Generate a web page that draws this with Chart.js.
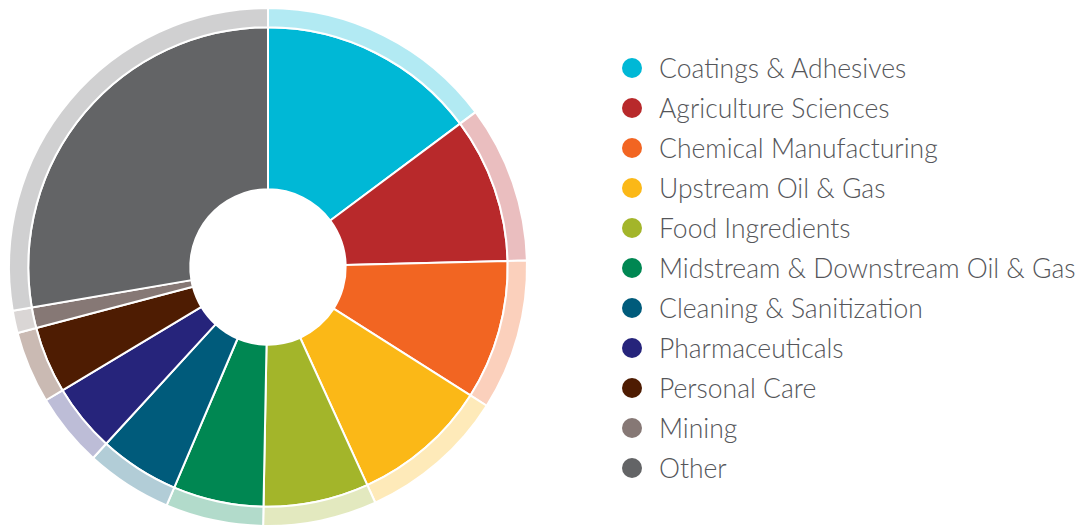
<!DOCTYPE html>
<html>
<head>
<meta charset="utf-8">
<script src="https://cdn.jsdelivr.net/npm/chart.js@4/dist/chart.umd.min.js"></script>
<style>
  body { margin: 0; background: #fff; overflow: hidden; width: 1080px; height: 525px; position: relative; }
  #wrap { position: absolute; left: 0; top: 0; width: 536px; height: 534px; }
  #legend { position: absolute; left: 622px; top: 48px; margin: 0; padding: 0; list-style: none; }
  #legend li { height: 40px; display: flex; align-items: center; font-family: Lato, sans-serif; font-weight: 300; font-size: 26.5px; color: #55565a; white-space: nowrap; }
  #legend span.dot { width: 20px; height: 20px; border-radius: 50%; display: inline-block; margin-right: 17px; flex: none; }
</style>
</head>
<body>
<div id="wrap"><canvas id="myChart"></canvas></div>
<ul id="legend"></ul>
<script>
const labels = [
  "Coatings & Adhesives",
  "Agriculture Sciences",
  "Chemical Manufacturing",
  "Upstream Oil & Gas",
  "Food Ingredients",
  "Midstream & Downstream Oil & Gas",
  "Cleaning & Sanitization",
  "Pharmaceuticals",
  "Personal Care",
  "Mining",
  "Other",
];
// share of each segment, percent
const shares = [14.8, 9.8, 9.4, 9.2, 7.1, 6.1, 5.4, 4.6, 4.5, 1.4, 27.7];
const colors = [
  "#00b8d6", "#b8292b", "#f26522", "#fbb817", "#a3b52a", "#008752",
  "#005b7b", "#26247b", "#4e1c02", "#867875", "#636466",
];

// outer ring is the same colour, faded
function fade(hex) {
  const n = parseInt(hex.slice(1), 16);
  return "rgba(" + (n >> 16) + "," + ((n >> 8) & 255) + "," + (n & 255) + ",0.3)";
}

const ctx = document.getElementById("myChart");

new Chart(ctx, {
  type: "doughnut",
  data: {
    labels: labels,
    datasets: [
      {
        data: shares,
        backgroundColor: colors.map(fade),
        borderColor: "#ffffff",
        borderWidth: 2,
        weight: 1,
      },
      {
        data: shares,
        backgroundColor: colors,
        borderColor: "#ffffff",
        borderWidth: 2,
        weight: 8.4,
      },
    ],
  },
  options: {
    responsive: true,
    maintainAspectRatio: false,
    animation: false,
    radius: 259,
    cutout: "30%",
    layout: { padding: 0 },
    events: [],
    plugins: {
      legend: { display: false },
      tooltip: { enabled: false },
    },
  },
});

const ul = document.getElementById("legend");
labels.forEach(function (name, i) {
  const li = document.createElement("li");
  const dot = document.createElement("span");
  dot.className = "dot";
  dot.style.background = colors[i];
  li.appendChild(dot);
  li.appendChild(document.createTextNode(name));
  ul.appendChild(li);
});
</script>
</body>
</html>
